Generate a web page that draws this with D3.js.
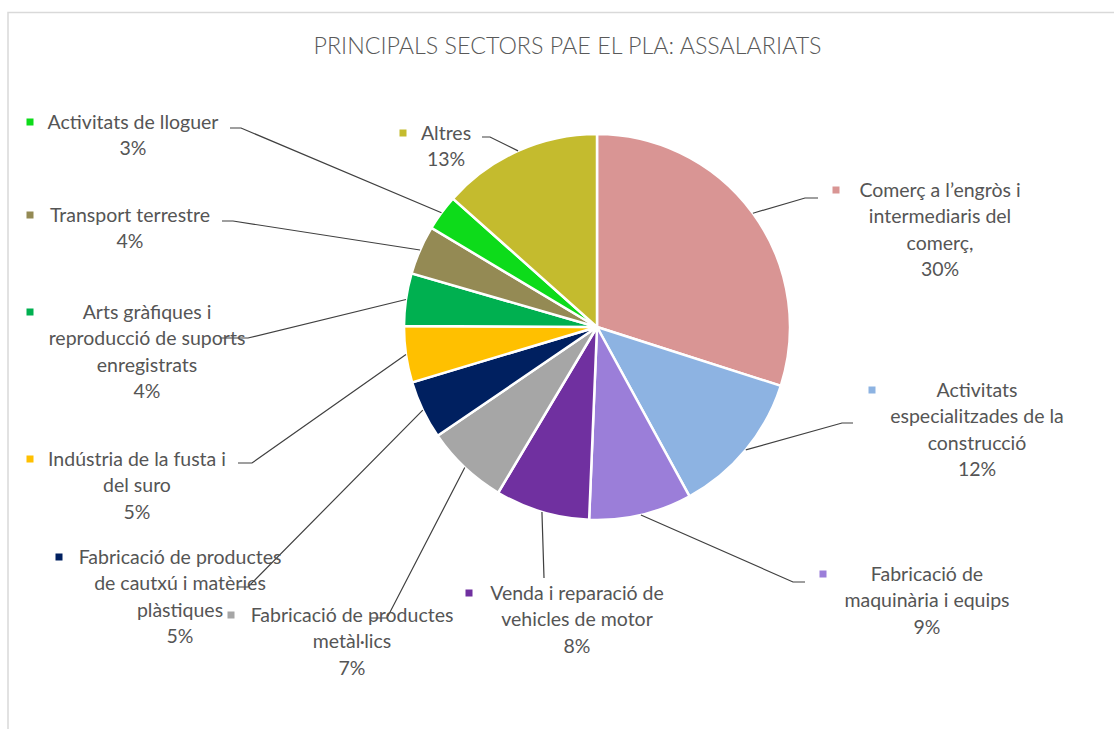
<!DOCTYPE html>
<html>
<head>
  <title>Principals sectors PAE El Pla: assalariats</title>
  <meta charset="utf-8">
  <style>
  body { margin: 0; background: #fff; }
  .title { font-family: Lato, "Open Sans", sans-serif; font-weight: 300; fill: #595959; }
  .labels text { font-family: Lato, "Open Sans", sans-serif; font-size: 19.5px; fill: #555; }
  .leaders path { fill: none; stroke: #404040; stroke-width: 1.2px; }
  .slices path { stroke: #fff; stroke-width: 2.5px; }
  </style>
</head>
<body>
<svg width="1114" height="729"></svg>
<script src="https://d3js.org/d3.v7.min.js"></script>
<script>

// data, clockwise from 12 o'clock
var categories = [
  "Comerç a l’engròs i intermediaris del comerç,",
  "Activitats especialitzades de la construcció",
  "Fabricació de maquinària i equips",
  "Venda i reparació de vehicles de motor",
  "Fabricació de productes metàl·lics",
  "Fabricació de productes de cautxú i matèries plàstiques",
  "Indústria de la fusta i del suro",
  "Arts gràfiques i reproducció de suports enregistrats",
  "Transport terrestre",
  "Activitats de lloguer",
  "Altres"
];
var values = [29.9, 12.1, 8.6, 7.9, 6.9, 4.9, 4.7, 4.4, 4.1, 3.0, 13.4];
var labelLines = [
  ["Comerç a l’engròs i", "intermediaris del", "comerç,"],
  ["Activitats", "especialitzades de la", "construcció"],
  ["Fabricació de", "maquinària i equips"],
  ["Venda i reparació de", "vehicles de motor"],
  ["Fabricació de productes", "metàl·lics"],
  ["Fabricació de productes", "de cautxú i matèries", "plàstiques"],
  ["Indústria de la fusta i", "del suro"],
  ["Arts gràfiques i", "reproducció de suports", "enregistrats"],
  ["Transport terrestre"],
  ["Activitats de lloguer"],
  ["Altres"]
];
var title = "PRINCIPALS SECTORS PAE EL PLA: ASSALARIATS";

var colors = ["#d99594", "#8db3e2", "#9b7ed9", "#7030a0", "#a6a6a6", "#002060",
              "#ffc000", "#00b050", "#948a54", "#0ddb1a", "#c4bb2e"];

// label placement (text centre x, first line y, key square x, leader elbow, leader end x)
var labelLayout = [
  {cx: 940, y: 190, sq: 836, elbow: [805, 198], end: 818},
  {cx: 977, y: 390, sq: 872, elbow: [842, 423], end: 853},
  {cx: 927, y: 574, sq: 823, elbow: [793, 582], end: 805},
  {cx: 577, y: 593, sq: 469, elbow: [544, 578], end: 544},
  {cx: 352, y: 615, sq: 231, elbow: [387, 618], end: 370},
  {cx: 180, y: 557, sq: 59,  elbow: [248, 587], end: 237},
  {cx: 137, y: 459, sq: 30,  elbow: [252, 463], end: 238},
  {cx: 147, y: 312, sq: 30,  elbow: [248, 338], end: 220},
  {cx: 130, y: 215, sq: 30,  elbow: [233, 221], end: 222},
  {cx: 133, y: 122, sq: 30,  elbow: [241, 128], end: 230},
  {cx: 446, y: 133, sq: 403, elbow: [490, 137], end: 482}
];

var svg = d3.select("svg"),
    width = +svg.attr("width"),
    height = +svg.attr("height");

var cx = 597, cy = 327, radius = 193, lineH = 26.5;

// chart frame (runs off the right and bottom of the picture)
svg.append("path")
    .attr("d", "M8," + height + "V12.5H" + width)
    .attr("fill", "none")
    .attr("stroke", "#d9d9d9")
    .attr("stroke-width", 1.5);

svg.append("text")
    .attr("class", "title")
    .attr("x", 567.5)
    .attr("y", 54)
    .attr("text-anchor", "middle")
    .attr("font-size", 24)
    .attr("textLength", 508)
    .attr("lengthAdjust", "spacingAndGlyphs")
    .text(title);

var total = d3.sum(values);
var data = categories.map(function(c, i) {
  return {name: c, value: values[i], lines: labelLines[i], color: colors[i], layout: labelLayout[i]};
});

var pie = d3.pie().sort(null).value(function(d) { return d.value; });
var arc = d3.arc().innerRadius(0).outerRadius(radius);
var edge = d3.arc().innerRadius(radius).outerRadius(radius);

var arcs = pie(data);

var g = svg.append("g").attr("transform", "translate(" + cx + "," + cy + ")");

g.append("g")
    .attr("class", "slices")
  .selectAll("path")
  .data(arcs)
  .enter().append("path")
    .attr("d", arc)
    .attr("fill", function(d) { return d.data.color; });

// leader lines from the slice edge to the label
svg.append("g")
    .attr("class", "leaders")
  .selectAll("path")
  .data(arcs)
  .enter().append("path")
    .attr("d", function(d) {
      var p = edge.centroid(d), L = d.data.layout;
      return d3.line()([[p[0] + cx, p[1] + cy], L.elbow, [L.end, L.elbow[1]]]);
    });

var labels = svg.append("g")
    .attr("class", "labels")
  .selectAll("g")
  .data(arcs)
  .enter().append("g");

labels.append("rect")
    .attr("x", function(d) { return d.data.layout.sq - 3.5; })
    .attr("y", function(d) { return d.data.layout.y - 3.5; })
    .attr("width", 7)
    .attr("height", 7)
    .attr("fill", function(d) { return d.data.color; });

labels.append("text")
    .attr("text-anchor", "middle")
    .selectAll("tspan")
    .data(function(d) {
      var pct = Math.round(d.data.value / total * 100) + "%";
      return d.data.lines.concat([pct]).map(function(t, j) {
        return {t: t, x: d.data.layout.cx, y: d.data.layout.y + j * lineH};
      });
    })
    .enter().append("tspan")
      .attr("x", function(d) { return d.x; })
      .attr("y", function(d) { return d.y; })
      .attr("dy", "0.35em")
      .text(function(d) { return d.t; });

</script>
</body>
</html>
